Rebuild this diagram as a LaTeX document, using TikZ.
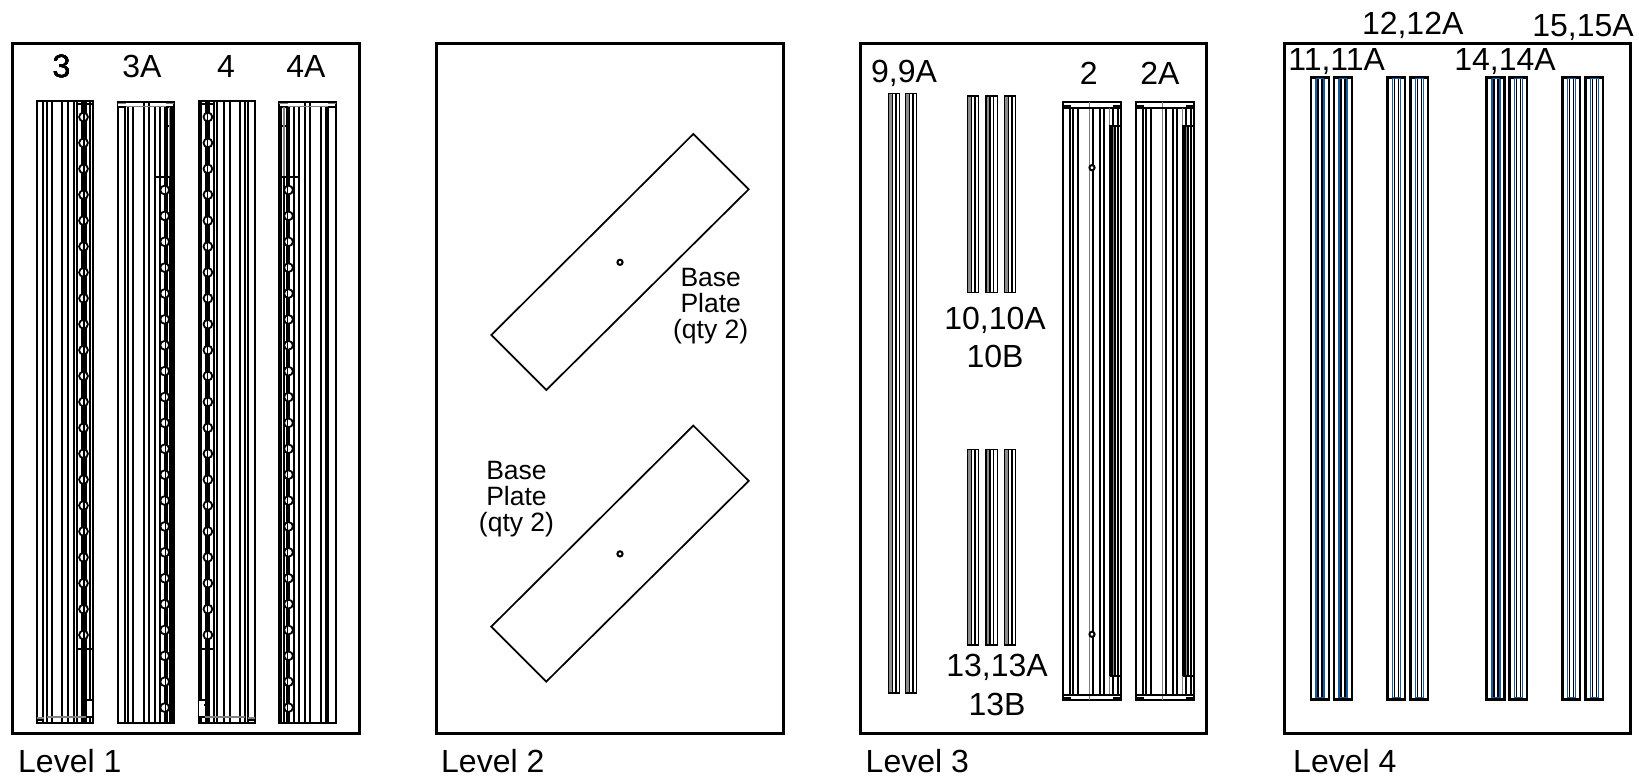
\documentclass[tikz,border=0pt]{standalone}
\usepackage{fontspec}
\setmainfont{Liberation Sans}
\definecolor{partblue}{RGB}{20,90,160}
\newcommand{\bigfont}{\fontsize{32}{32}\selectfont}
\newcommand{\smallfont}{\fontsize{26.5}{26}\selectfont}
\tikzset{
  x=1pt,y=-1pt,
  frame/.style={draw=black,line width=3pt},
  thin part/.style={draw=black,line width=2pt},
  strip line/.style={draw=black,line width=1.5pt},
  grey part/.style={draw=black!50,line width=1.6pt},
  heavy/.style={fill=black,draw=none},
  hole/.style={draw=black,line width=1.8pt,fill=white},
  smallhole/.style={draw=black,line width=2pt,fill=white},
  plate line/.style={draw=black,line width=1.7pt,line join=miter},
  big label/.style={font=\bigfont,text=black,inner sep=0pt,anchor=center},
  level label/.style={font=\bigfont,text=black,inner sep=0pt,anchor=base west},
  plate label/.style={font=\smallfont,text=black,inner sep=0pt,align=center,anchor=center},
}
\newcommand{\holedpartA}[2]{%
 \begin{scope}[shift={(#1,0)},xscale=#2]
  \draw[thin part] (0,101) rectangle (56,723);
  \foreach \vx in {6.7,10,15,25,31,37.3,40.6,53.3} \draw[thin part] (\vx,101)--(\vx,723);
  \fill[heavy] (44.5,101) rectangle (50,723);
  \draw[thin part] (40.6,104)--(56,104);
  \draw[thin part] (40.6,104) rectangle (56,649);
  \draw[grey part] (10,717)--(50,717);
  \draw[thin part] (0,723)--(56,723);
  \draw[grey part] (0,718)--(7,718);
  \draw[thin part] (0,720)--(7,720);
  \draw[thin part] (49.5,699.5)--(56,699.5);
  \draw[thin part] (49.5,705)--(56,705);
  \fill[white] (50.6,700.5) rectangle (55.3,716);
  \draw[thin part] (49.5,717)--(56,717);
  \foreach \i in {0,...,20} {
    \draw[hole] (46.8,117+25.9*\i) circle[radius=4.4];
    \draw[strip line] (47.3,117+25.9*\i-4)--(47.3,117+25.9*\i+4);
  }
 \end{scope}}
\newcommand{\holedpartB}[2]{%
 \begin{scope}[shift={(#1,0)},xscale=#2]
  \draw[thin part] (0,101.5) rectangle (56.5,723);
  \foreach \vx in {7.7,10,15,26,31,37,42,52,54.3} \draw[thin part] (\vx,106)--(\vx,723);
  \fill[heavy] (46.2,106) rectangle (50.2,724);
  \fill[white] (0.9,102.5) rectangle (55.6,105.6);
  \draw[grey part] (0,103.5)--(8,103.5);
  \draw[grey part] (48,103.5)--(56.5,103.5);
  \draw[grey part] (8,106.5)--(48,106.5);
  \draw[thin part] (0,106.5)--(8,106.5);
  \draw[thin part] (48,106.5)--(56.5,106.5);
  \draw[thin part] (26,101.5)--(26,106);
  \draw[thin part] (31,101.5)--(31,106);
  \draw[thin part] (50,125.5)--(55,125.5);
  \draw[grey part] (52,106.5)--(52,176);
  \draw[thin part] (37,176.7) rectangle (54.3,723);
  \foreach \i in {0,...,20} {
    \draw[hole] (47.2,190+25.88*\i) circle[radius=4.4];
    \draw[strip line] (48,190+25.88*\i-4)--(48,190+25.88*\i+4);
  }
 \end{scope}}
\newcommand{\plainpart}[1]{%
 \begin{scope}[shift={(#1,0)}]
  \draw[thin part] (0,102.3) rectangle (57.4,700);
  \foreach \vx in {6.7,10,15,30,36.7,41,55} \draw[thin part] (\vx,107.5)--(\vx,695);
  \draw[grey part] (26,102.3)--(26,700);
  \fill[heavy] (45.5,126) rectangle (53,675);
  \fill[black!45] (49.2,126) rectangle (50.2,675);
  \draw[thin part] (0,105.5)--(7.5,105.5);
  \draw[thin part] (49.5,105.5)--(57.4,105.5);
  \draw[thin part] (0,107.5)--(57.4,107.5);
  \draw[grey part] (46,107.5)--(46,126);
  \draw[thin part] (49.5,107.5)--(49.5,126);
  \draw[thin part] (46,126)--(57.4,126);
  \fill[white] (50.6,108.7) rectangle (54,125);
  \draw[thin part] (46,676)--(57.4,676);
  \draw[grey part] (46,676)--(46,695);
  \draw[thin part] (49.5,676)--(49.5,696);
  \fill[white] (50.6,677) rectangle (54,694);
  \draw[thin part] (0,695)--(57.4,695);
  \draw[thin part] (0,697.5)--(7.5,697.5);
  \draw[thin part] (49.5,697.5)--(57.4,697.5);
 \end{scope}}
\newcommand{\darkstrip}[5]{%
 \begin{scope}[shift={(#1,0)}]
  \fill[black!45] (0.6,#3) rectangle (#5,#4);
  \draw[strip line] (0,#3) rectangle (#2,#4);
  \draw[strip line] (#5,#3)--(#5,#4);
  \draw[strip line] (#5+3.6,#3)--(#5+3.6,#4);
 \end{scope}}
\newcommand{\bluestrip}[1]{%
 \begin{scope}[shift={(#1,0)}]
  \draw[draw=black,line width=2.5pt] (0,77.3) rectangle (17.8,699.3);
  \foreach \vx in {7.2,11.2} \draw[draw=black,line width=1.6pt] (\vx,77.3)--(\vx,699.3);
  \foreach \vx in {5,13.2} \draw[draw=partblue,line width=1.6pt] (\vx,78.6)--(\vx,698);
  \draw[draw=partblue,line width=1.2pt] (5,78.8)--(13.2,78.8);
  \draw[draw=partblue,line width=1.2pt] (5,697.8)--(13.2,697.8);
 \end{scope}}
\newcommand{\baseplate}[1]{%
 \begin{scope}[shift={(0,#1)}]
  \draw[plate line] (693.3,134)--(748.7,189.3)--(546.3,390)--(491.3,335)--cycle;
  \draw[smallhole] (620,262.3) circle[radius=2.6];
 \end{scope}}
\begin{document}
\begin{tikzpicture}
\useasboundingbox (0,0) rectangle (1639,779);
\node[frame,minimum width=346.5pt,minimum height=690pt,inner sep=0pt,anchor=north west] (frameA) at (11.3,42) {};
\node[frame,minimum width=346.5pt,minimum height=690pt,inner sep=0pt,anchor=north west] (frameB) at (435.3,42) {};
\node[frame,minimum width=346.5pt,minimum height=690pt,inner sep=0pt,anchor=north west] (frameC) at (858.5,42) {};
\node[frame,minimum width=346.5pt,minimum height=690pt,inner sep=0pt,anchor=north west] (frameD) at (1282.5,42) {};
\holedpartA{36.7}{1}
\holedpartB{117.5}{1}
\holedpartA{254.7}{-1}
\holedpartB{335.7}{-1}
\baseplate{0}
\baseplate{291.6}
\foreach \px in {888.3,905.5} \darkstrip{\px}{11}{93.3}{693}{4};
\foreach \px in {967.3,986,1004.3} {
  \darkstrip{\px}{11.3}{96}{292.7}{4};
  \darkstrip{\px}{11.3}{449.5}{645}{4};
}
\plainpart{1063.3}
\plainpart{1136.3}
\draw[smallhole] (1092,167.7) circle[radius=2.6];
\draw[smallhole] (1092,634.3) circle[radius=2.6];
\foreach \px in {1311,1334,1387.3,1410.3,1486.7,1509.3,1562.3,1585.3} \bluestrip{\px}
\node[big label] (l3) at (61.6,66.4) {3};
\node[big label] (l3a) at (142,66) {3A};
\node[big label] (l4) at (226,66) {4};
\node[big label] (l4a) at (306,66) {4A};
\node[level label] (lv1) at (18,772) {Level 1};
\node[level label] (lv2) at (441,772) {Level 2};
\node[level label] (lv3) at (865.5,772) {Level 3};
\node[level label] (lv4) at (1293,772) {Level 4};
\node[plate label] (bp1) at (710.7,306.5) {Base\\Plate\\(qty 2)};
\node[plate label] (bp2) at (516.5,499) {Base\\Plate\\(qty 2)};
\node[big label] (l9) at (904,73) {9,9A};
\node[big label] (l10) at (995,320) {10,10A};
\node[big label] (l10b) at (995,356.5) {10B};
\node[big label] (l13) at (997,667) {13,13A};
\node[big label] (l13b) at (997,704) {13B};
\node[big label] (l2) at (1088.7,73) {2};
\node[big label] (l2a) at (1160,73) {2A};
\node[big label] (l11) at (1336.7,62) {11,11A};
\node[big label] (l12) at (1412.7,25) {12,12A};
\node[big label] (l14) at (1505,62) {14,14A};
\node[big label] (l15) at (1583,28) {15,15A};
\end{tikzpicture}
\end{document}
